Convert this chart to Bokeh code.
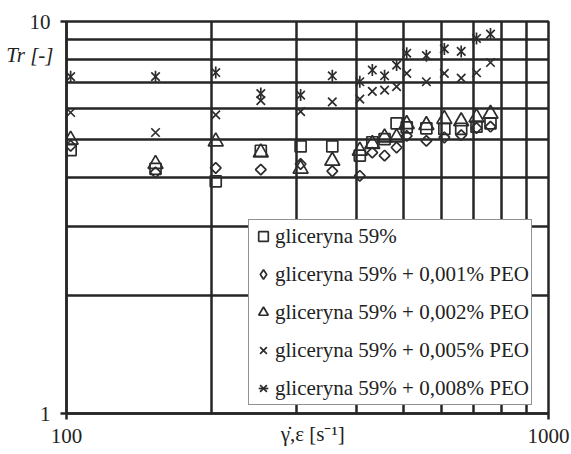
import math
from bokeh.plotting import figure
from bokeh.models import FixedTicker, Legend, LegendItem, NumeralTickFormatter, Range1d
from bokeh.embed import file_html
from bokeh.resources import INLINE

# shear / extension rate [1/s]
shear_rate = [102, 153, 204, 253, 306, 356, 406, 431, 457, 484, 508, 558, 608, 659, 709, 758]

# Tr [-] for each solution
tr_gly59 = [4.70, 4.21, 3.91, 4.68, 4.80, 4.80, 4.55, 4.92, 5.01, 5.50, 5.37, 5.34, 5.32, 5.32, 5.39, 5.50]
tr_peo001 = [4.82, 4.12, 4.23, 4.19, 4.33, 4.15, 4.04, 4.63, 4.55, 4.77, 5.11, 4.96, 5.06, 5.13, 5.35, 5.39]
tr_peo002 = [4.99, 4.33, 4.94, 4.63, 4.21, 4.41, 4.68, 4.87, 5.06, 5.06, 5.47, 5.44, 5.64, 5.56, 5.69, 5.81]
tr_peo005 = [5.86, 5.21, 5.78, 6.28, 5.89, 6.24, 6.34, 6.63, 6.68, 6.82, 7.37, 7.02, 7.37, 7.17, 7.40, 7.86]
tr_peo008 = [7.23, 7.23, 7.41, 6.55, 6.49, 7.27, 7.02, 7.52, 7.27, 7.74, 8.30, 8.18, 8.51, 8.39, 9.05, 9.29]

series_labels = [
    "gliceryna 59%",
    "gliceryna 59% + 0,001% PEO",
    "gliceryna 59% + 0,002% PEO",
    "gliceryna 59% + 0,005% PEO",
    "gliceryna 59% + 0,008% PEO",
]

x_title = "\u03b3\u0307,\u03b5 [s\u207b\u00b9]"
y_title = "Tr [-]"

x_major = [100, 1000]
x_minor = [200, 300, 400, 500, 600, 700, 800, 900]
y_major = [1, 10]
y_minor = [2, 3, 4, 5, 6, 7, 8, 9]

DARK = "#262626"
MK = "#2c2c2c"
TXT = "#222222"
FONT = "Liberation Serif"

p = figure(width=571, height=454, x_axis_type="log", y_axis_type="log",
           x_range=(100, 1000), y_range=(1, 10),
           output_backend="svg", toolbar_location=None,
           min_border_left=66, min_border_right=23, min_border_top=21, min_border_bottom=41)
p.extra_y_ranges = {"legend_only": Range1d(1000, 10000)}

p.background_fill_color = "white"
p.border_fill_color = "white"
p.outline_line_color = DARK
p.outline_line_width = 2.5

p.xaxis.ticker = FixedTicker(ticks=x_major, minor_ticks=x_minor)
p.yaxis.ticker = FixedTicker(ticks=y_major, minor_ticks=y_minor)
p.xaxis.formatter = NumeralTickFormatter(format="0")
p.yaxis.formatter = NumeralTickFormatter(format="0")

for ax in (p.xaxis, p.yaxis):
    ax.axis_line_color = DARK
    ax.axis_line_width = 2.5
    ax.major_tick_line_color = DARK
    ax.major_tick_line_width = 2.5
    ax.major_tick_out = 6
    ax.major_tick_in = 0
    ax.minor_tick_line_color = None
    ax.major_label_text_font = FONT
    ax.major_label_text_font_size = "21px"
    ax.major_label_text_color = TXT
    ax.axis_label_text_font = FONT
    ax.axis_label_text_font_size = "21px"
    ax.axis_label_text_color = TXT
p.xaxis.major_label_standoff = 9
p.yaxis.major_label_standoff = 10

# x title on the same line as the tick labels
p.xaxis.axis_label = "\u2002" + x_title
p.xaxis.axis_label_text_font_style = "normal"
p.xaxis.axis_label_standoff = -24

# y title horizontal, near the top left
p.yaxis.axis_label = "\u00a0\n\u00a0\n" + y_title
p.yaxis.axis_label_text_font_style = "italic"
p.yaxis.axis_label_orientation = "horizontal"
p.yaxis.axis_label_align = "end"
p.yaxis.axis_label_standoff = -27
p.yaxis.axis_label_text_line_height = 1.39

for g in (p.xgrid, p.ygrid):
    g.grid_line_color = DARK
    g.grid_line_width = 2.5
    g.minor_grid_line_color = DARK
    g.minor_grid_line_width = 2.5

common = dict(line_color=MK, line_width=1.7)
r1 = p.scatter(shear_rate, tr_gly59, marker="square", size=11, fill_color=None, **common)
r2 = p.scatter(shear_rate, tr_peo001, marker="square", size=7.5, angle=math.pi / 4,
               fill_color=None, **common)
r3 = p.scatter(shear_rate, tr_peo002, marker="triangle", size=15, fill_color=None, **common)
r4 = p.scatter(shear_rate, tr_peo005, marker="x", size=12, **common)
r5a = p.scatter(shear_rate, tr_peo008, marker="x", size=12, **common)
r5b = p.scatter(shear_rate, tr_peo008, marker="dash", size=12, angle=math.pi / 2, **common)
# diamond glyph for the legend (same series, drawn on an off-screen range)
r2_leg = p.scatter(shear_rate, tr_peo001, marker="diamond", size=12, fill_color=None,
                   y_range_name="legend_only", **common)

legend = Legend(items=[
    LegendItem(label=series_labels[0], renderers=[r1]),
    LegendItem(label=series_labels[1], renderers=[r2_leg]),
    LegendItem(label=series_labels[2], renderers=[r3]),
    LegendItem(label=series_labels[3], renderers=[r4]),
    LegendItem(label=series_labels[4], renderers=[r5a, r5b]),
], location=(182, 8))
legend.label_text_font = FONT
legend.label_text_font_size = "21px"
legend.label_text_color = TXT
legend.border_line_color = DARK
legend.border_line_width = 1.8
legend.background_fill_color = "white"
legend.background_fill_alpha = 1
legend.padding = 2
legend.spacing = 10
legend.margin = 0
legend.glyph_width = 24
legend.glyph_height = 28
legend.label_height = 28
legend.label_standoff = 0
p.add_layout(legend)

open("out.html", "w").write(file_html(p, INLINE))
